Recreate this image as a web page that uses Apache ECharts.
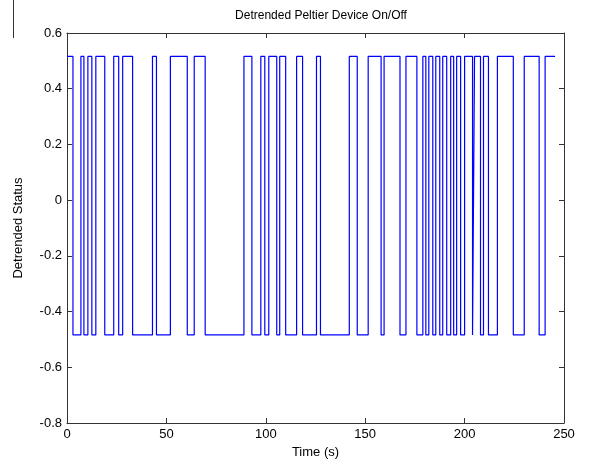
<!DOCTYPE html>
<html><head><meta charset="utf-8">
<script src="https://cdn.jsdelivr.net/npm/echarts@6/dist/echarts.min.js"></script>
<style>html,body{margin:0;padding:0;background:#fff}#c{width:589px;height:469px}</style>
</head><body><div id="c"></div>
<script>
// Switch times (s) at which the on/off state changes; state holds until next time
const switchTimes = [0, 3, 7, 8.5, 10.5, 12.5, 14.5, 19, 23.5, 26, 28, 33, 43, 45, 52, 60.5, 64, 69.5,
  89, 93, 97.5, 99.5, 101.5, 105.5, 107, 110, 115.5, 118.5, 125.5, 127.5, 142, 146, 151.5, 158, 159.5,
  167.5, 170.5, 176, 179, 180.5, 182, 184, 185.5, 187.5, 189, 191, 193, 194.5, 196, 198, 200, 204, 205,
  208, 209.5, 212, 216.5, 224.5, 230, 237.5, 240.5];
const endTime = 245.5;
// state (1 = on, 0 = off) starting at each switch time
const states = switchTimes.map((_, i) => (i % 2 === 0 ? 1 : 0));
// detrended status level for off / on
const levels = [-0.484, 0.516];
const xTicks = [0, 50, 100, 150, 200, 250];
const yTicks = [-0.8, -0.6, -0.4, -0.2, 0, 0.2, 0.4, 0.6];

const data = switchTimes.map((t, i) => [t, levels[states[i]]]);
data.push([endTime, levels[states[states.length - 1]]]);

const font = 'Liberation Sans, Arial, sans-serif';
const axisCol = '#333';
const chart = echarts.init(document.getElementById('c'));
const common = {
  axisLine: {show: true, onZero: false, lineStyle: {color: axisCol, width: 1}},
  axisTick: {show: true, inside: true, length: 5, lineStyle: {color: axisCol}},
  splitLine: {show: false}
};
chart.setOption({
  animation: false,
  title: {text: 'Detrended Peltier Device On/Off', left: 316, top: 5, textAlign: 'center',
    textStyle: {fontFamily: font, fontSize: 12, fontWeight: 'normal', color: '#000'}},
  grid: {left: 67, right: 25, top: 33, bottom: 46},
  xAxis: [
    Object.assign({type: 'value', min: xTicks[0], max: xTicks[xTicks.length - 1], interval: 50,
      position: 'bottom', name: 'Time (s)', nameLocation: 'middle', nameGap: 23,
      nameTextStyle: {fontFamily: font, fontSize: 13, color: '#000'},
      axisLabel: {fontFamily: font, fontSize: 13, color: '#000', margin: 5}}, common),
    Object.assign({type: 'value', min: 0, max: 250, interval: 50, position: 'top',
      axisLabel: {show: false}}, common)
  ],
  yAxis: [
    Object.assign({type: 'value', min: yTicks[0], max: yTicks[yTicks.length - 1], interval: 0.2,
      position: 'left', name: 'Detrended Status', nameLocation: 'middle', nameGap: 42,
      nameTextStyle: {fontFamily: font, fontSize: 13, color: '#000'},
      axisLabel: {fontFamily: font, fontSize: 13, color: '#000', margin: 5,
        formatter: v => String(Math.round(v * 10) / 10)}}, common),
    Object.assign({type: 'value', min: -0.8, max: 0.6, interval: 0.2, position: 'right',
      axisLabel: {show: false}}, common)
  ],
  graphic: [{type: 'line', shape: {x1: 13.5, y1: 0, x2: 13.5, y2: 38}, style: {stroke: '#333', lineWidth: 1}}],
  series: [{
    type: 'line', step: 'end', data: data, symbol: 'none',
    lineStyle: {color: '#0000ff', width: 1.2}
  }]
});
</script></body></html>
